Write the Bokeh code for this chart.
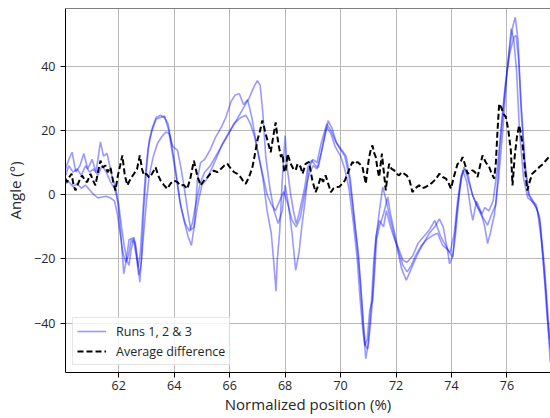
from bokeh.plotting import figure
from bokeh.models import Range1d, SingleIntervalTicker, Span, CustomJSTickFormatter
from bokeh.embed import file_html
from bokeh.resources import INLINE

# ---- data ----
run1_x = [60.08, 60.2, 60.32, 60.45, 60.6, 60.74, 60.88, 61.04, 61.18, 61.34, 61.45, 61.58, 61.75, 61.9,
          62.0, 62.1, 62.18, 62.28, 62.37, 62.5, 62.6, 62.7, 62.76, 62.82, 62.9, 63.0, 63.1, 63.22, 63.35,
          63.5, 63.65, 63.78, 63.9, 64.05, 64.2, 64.35, 64.5, 64.62, 64.72, 64.84, 64.95, 65.1, 65.3, 65.5,
          65.7, 65.86, 66.05, 66.2, 66.35, 66.5, 66.65, 66.8, 67.0, 67.2, 67.35, 67.5, 67.6, 67.67, 67.72,
          67.8, 67.9, 68.0, 68.08, 68.2, 68.3, 68.4, 68.5, 68.6, 68.7, 68.82, 68.95, 69.1, 69.2, 69.35,
          69.55, 69.7, 69.85, 70.05, 70.2, 70.35, 70.5, 70.65, 70.78, 70.85, 70.91, 71.0, 71.1, 71.2, 71.3,
          71.4, 71.52, 71.62, 71.8, 72.0, 72.2, 72.37, 72.5, 72.7, 72.85, 73.0, 73.2, 73.4, 73.56, 73.7,
          73.85, 73.93, 74.05, 74.2, 74.35, 74.45, 74.6, 74.75, 74.9, 75.05, 75.2, 75.3, 75.45, 75.6, 75.75,
          75.9, 76.05, 76.2, 76.3, 76.4, 76.5, 76.65, 76.8, 76.95, 77.1, 77.25, 77.4, 77.56]
run1_y = [8, 11, 13.2, 7, 9, 12.8, 8, 11, 7, 16.4, 12, 12.8, 6, 2,
          -5, -15, -24.6, -20, -14, -13.5, -15, -22, -27.2, -20, -5, 8, 17, 21, 24,
          24.7, 24, 22, 16, 8, -2, -8, -13, -15.8, -10, 5, 10, 11, 14, 18,
          21, 24, 29, 31, 31.4, 28, 29.5, 24, 14, 5, -5, -12, -22, -30, -20,
          -12, 5, 18.4, 8, 0, -5, -9, -6, -2, 2, 8.6, 10.7, 9, 8.5, 15,
          23, 20.5, 16, 13.8, 12, 5, -8, -19, -35, -45, -51, -46, -35, -20, -12,
          -5, 2.4, -1, -8, -15, -23, -26.6, -24, -20, -17.3, -15, -12, -10, -7.5, -10,
          -17, -21.5, -19, -5, 5, 8.6, 6, 0, -3, -6, -8, -9.5, -6, -3, 15,
          30, 42, 52, 55.2, 48, 30, 10, 0, -2, -5, -15, -30, -52]

run2_x = [60.08, 60.2, 60.35, 60.5, 60.65, 60.8, 60.95, 61.1, 61.25, 61.4, 61.55, 61.7, 61.85, 62.0,
          62.1, 62.2, 62.3, 62.37, 62.45, 62.55, 62.62, 62.7, 62.78, 62.85, 62.95, 63.05, 63.2, 63.35,
          63.5, 63.65, 63.8, 63.95, 64.1, 64.25, 64.4, 64.55, 64.65, 64.8, 64.95, 65.1, 65.3, 65.5, 65.7,
          65.9, 66.1, 66.3, 66.5, 66.7, 66.9, 67.0, 67.1, 67.2, 67.3, 67.45, 67.6, 67.75, 67.9, 68.0, 68.1,
          68.25, 68.38, 68.5, 68.6, 68.72, 68.85, 69.0, 69.15, 69.3, 69.5, 69.65, 69.8, 70.0, 70.15, 70.3,
          70.45, 70.6, 70.72, 70.82, 70.9, 70.98, 71.08, 71.2, 71.3, 71.4, 71.55, 71.7, 71.8, 71.95, 72.1,
          72.25, 72.4, 72.55, 72.7, 72.9, 73.1, 73.3, 73.5, 73.68, 73.85, 74.04, 74.15, 74.3, 74.41, 74.55,
          74.7, 74.77, 74.9, 75.05, 75.2, 75.3, 75.4, 75.55, 75.7, 75.85, 76.0, 76.15, 76.25, 76.35, 76.45,
          76.6, 76.75, 76.9, 77.05, 77.18, 77.3, 77.45, 77.56]
run2_y = [6, 9, 7, 8, 6, 9, 7, 8, 6, 9, 7, 4, 2, -3,
          -10, -16, -20.5, -22, -17, -13.2, -17, -22.5, -18, -8, 5, 14, 20, 23.5,
          24, 24.5, 20, 12, 4, -4, -9, -11.4, -9, -2, 4, 7, 9, 12, 15,
          18, 21, 24, 27, 30, 34, 35.5, 34, 25, 12, 2, -5, -9, -5, 3, -2,
          -12, -23.5, -18, -10, -2, 8, 11, 10, 16, 22, 20, 17, 14, 12, 6,
          -4, -16, -28, -40, -47, -48, -40, -28, -14, -10, -6, -0.7, -6, -12, -18,
          -22, -24, -22, -19, -16, -14, -12.8, -12, -15.8, -17, -19.4, -12, 2, 7.6, 4,
          -5, -8, -2, -5, -10, -15.2, -12, -6, 5, 20, 38, 51.6, 48, 38, 20,
          5, -1, -2, -4, -7, -20, -38, -48]

run3_x = [60.08, 60.2, 60.35, 60.5, 60.65, 60.8, 60.95, 61.1, 61.25, 61.4, 61.55, 61.7, 61.85, 61.95,
          62.05, 62.15, 62.25, 62.35, 62.45, 62.55, 62.65, 62.72, 62.8, 62.9, 63.0, 63.1, 63.25, 63.4,
          63.55, 63.7, 63.82, 63.95, 64.12, 64.25, 64.4, 64.5, 64.6, 64.72, 64.85, 65.0, 65.15, 65.35,
          65.55, 65.75, 65.95, 66.15, 66.4, 66.59, 66.75, 66.9, 67.05, 67.2, 67.35, 67.5, 67.65, 67.8,
          67.95, 68.1, 68.25, 68.4, 68.55, 68.7, 68.85, 69.0, 69.15, 69.3, 69.5, 69.65, 69.8, 70.0, 70.15,
          70.3, 70.45, 70.6, 70.7, 70.8, 70.88, 70.96, 71.05, 71.15, 71.27, 71.4, 71.55, 71.65, 71.8,
          71.95, 72.1, 72.25, 72.4, 72.6, 72.8, 73.0, 73.2, 73.4, 73.6, 73.8, 73.95, 74.1, 74.22, 74.35,
          74.5, 74.65, 74.8, 74.95, 75.1, 75.2, 75.35, 75.5, 75.65, 75.8, 75.95, 76.1, 76.25, 76.33, 76.42,
          76.52, 76.65, 76.78, 76.9, 77.05, 77.2, 77.35, 77.5, 77.56]
run3_y = [3.5, 4, 2.5, 3.5, 2, 3, 1.5, 0, -1, -0.7, -0.5, -1, -2, -6,
          -12, -18, -21, -19, -14, -15, -20, -25, -22, -12, -2, 6, 12, 16,
          18, 19.5, 19, 15, 13.8, 8, 0, -6, -11, -10, -3, 3, 4.5, 8,
          12, 16, 19, 22, 24, 24.7, 22, 18, 12, 6, 0, -3, -5, -2,
          1, -3, -8, -10, -7, 0, 6, 9, 8, 13, 21, 19, 15, 12, 8,
          2, -8, -20, -32, -42, -47, -45, -36, -32.9, -13.2, -8, -10, -5, -10,
          -14, -17, -20.4, -21, -19, -15, -13, -11, -8, -12.8, -16, -18, -12, -2, 6,
          8, 3, -1, -4, -6, -4, -5, -2, 8, 22, 35, 44, 49, 49.5, 42,
          25, 8, 0, -2, -3, -9, -22, -40, -45]

avg_x = [60.08, 60.14, 60.22, 60.3, 60.37, 60.44, 60.56, 60.68, 60.78, 60.86, 60.98, 61.07, 61.16, 61.25,
         61.34, 61.43, 61.52, 61.6, 61.7, 61.8, 61.88, 61.97, 62.05, 62.13, 62.22, 62.31, 62.43, 62.55,
         62.66, 62.76, 62.84, 62.91, 63.0, 63.09, 63.2, 63.33, 63.42, 63.51, 63.63, 63.75, 63.87, 63.99,
         64.1, 64.23, 64.35, 64.47, 64.58, 64.71, 64.83, 64.95, 65.08, 65.2, 65.3, 65.43, 65.55, 65.68,
         65.8, 65.92, 66.05, 66.16, 66.28, 66.4, 66.5, 66.58, 66.7, 66.82, 66.92, 67.0, 67.1, 67.18,
         67.27, 67.36, 67.48, 67.57, 67.66, 67.72, 67.78, 67.85, 67.91, 67.97, 68.02, 68.09, 68.2, 68.3,
         68.38, 68.45, 68.56, 68.63, 68.74, 68.86, 68.98, 69.1, 69.2, 69.28, 69.37, 69.46, 69.55, 69.65,
         69.75, 69.83, 69.95, 70.07, 70.16, 70.25, 70.34, 70.43, 70.52, 70.61, 70.7, 70.79, 70.85, 70.91,
         70.97, 71.03, 71.09, 71.15, 71.21, 71.27, 71.33, 71.39, 71.44, 71.49, 71.56, 71.63, 71.69, 71.75,
         71.84, 71.93, 72.02, 72.11, 72.2, 72.29, 72.38, 72.47, 72.53, 72.59, 72.7, 72.83, 72.95, 73.07,
         73.2, 73.32, 73.45, 73.56, 73.68, 73.8, 73.9, 73.98, 74.1, 74.22, 74.32, 74.4, 74.5, 74.58,
         74.67, 74.76, 74.85, 74.94, 75.03, 75.12, 75.24, 75.36, 75.45, 75.54, 75.6, 75.66, 75.72, 75.8,
         75.88, 75.96, 76.05, 76.14, 76.2, 76.28, 76.36, 76.44, 76.5, 76.56, 76.64, 76.73, 76.82, 76.91,
         77.04, 77.17, 77.29, 77.41, 77.56]
avg_y = [5, 3.9, 5.5, 6.5, 3, 1.3, 4, 6, 4.5, 3.9, 6.5, 4.5, 2.9, 7,
         10.6, 8.5, 9.1, 7, 8.5, 4, 1.3, 6, 9, 12.2, 6, 2.9, 5, 6.5,
         8, 12.2, 8, 6, 6.5, 5.4, 6.5, 8.5, 6, 4.4, 3, 1.8, 3.5, 4.4,
         4, 2.9, 3, 1.8, 5, 10.6, 6, 2.9, 4.5, 5.4, 6.5, 7.5, 7, 8,
         9, 9.6, 8, 7, 6.5, 5.4, 4, 3.4, 5.5, 8.5, 13, 16.9, 20, 23.1,
         20, 16.9, 13.2, 18, 22.5, 18, 14.8, 11.7, 12.7, 7, 7.6, 12.7, 9.6, 8,
         7.6, 9.6, 8.6, 6.5, 9.6, 10.2, 4.5, 0.8, 3, 5.5, 4, 6, 3.5, 0.8,
         2, 2.4, 2.5, 3.4, 4.5, 6.5, 8.5, 10.2, 9.5, 10.2, 9.5, 8.6, 6, 3.4,
         8, 11.7, 14, 15.3, 13, 11.7, 8, 5.5, 9, 12.8, 7, 1.3, 6, 9.6,
         8, 7.6, 6.5, 6, 7, 6.5, 6, 5, 3, 0.8, 2, 2.9, 2, 2.4,
         3, 3.9, 5, 6.5, 5.5, 5, 3.5, 1.9, 6, 9.6, 10, 11.7, 9, 6.5,
         7, 7.6, 7, 5.5, 9, 12.2, 10, 8.6, 6.5, 5, 10, 20, 28.3, 27,
         25, 24.2, 20, 13.8, 2.9, 12, 18, 21.6, 19, 15.9, 9, 1.3, 4, 6.5,
         7.5, 8.6, 9.5, 10.7, 12.2]

x_range = (60.08, 77.57)
y_range = (-55.3, 57.9)

FONT = "Open Sans"

p = figure(width=550, height=418, output_backend="svg", toolbar_location=None,
           x_range=Range1d(*x_range), y_range=Range1d(*y_range),
           min_border_left=65, min_border_right=0, min_border_top=8, min_border_bottom=46,
           background_fill_color="white", border_fill_color="white")
p.outline_line_color = None

for xs, ys, lab in [(run1_x, run1_y, "Runs 1, 2 & 3"), (run2_x, run2_y, None), (run3_x, run3_y, None)]:
    kw = dict(line_color="blue", line_alpha=0.4, line_width=1.6)
    if lab:
        kw["legend_label"] = lab
    p.line(xs, ys, **kw)

p.line(avg_x, avg_y, line_color="black", line_width=2, line_dash="6 3",
       legend_label="Average difference")

# top border
p.add_layout(Span(location=y_range[1], dimension="width", line_color="black", line_width=1))

p.xaxis.ticker = SingleIntervalTicker(interval=2)
p.yaxis.ticker = SingleIntervalTicker(interval=20)
p.yaxis.formatter = CustomJSTickFormatter(code="return tick < 0 ? '\u2212' + Math.abs(tick) : String(tick);")
p.xaxis.axis_label = "Normalized position (%)"
p.yaxis.axis_label = "Angle (°)"
for ax in (p.xaxis, p.yaxis):
    ax.axis_line_color = "black"
    ax.axis_line_width = 1
    ax.major_tick_in = 0
    ax.major_tick_out = 5
    ax.minor_tick_line_color = None
    ax.major_tick_line_color = "black"
    ax.major_label_text_font = FONT
    ax.major_label_text_font_size = "12.5px"
    ax.major_label_text_color = "#262626"
    ax.axis_label_text_font = FONT
    ax.axis_label_text_font_size = "15px"
    ax.axis_label_text_font_style = "normal"
    ax.axis_label_text_color = "#262626"
p.xaxis.major_label_standoff = 3
p.xaxis.axis_label_standoff = 1
p.yaxis.major_label_standoff = 5
p.yaxis.axis_label_standoff = 6

p.grid.grid_line_color = "#b8b8b8"
p.grid.grid_line_width = 1

lg = p.legend[0]
lg.location = "bottom_left"
lg.margin = 7
lg.padding = 4
lg.spacing = 2
lg.label_height = 18
lg.glyph_height = 18
lg.glyph_width = 29
lg.label_text_font = FONT
lg.label_text_font_size = "12.5px"
lg.label_text_color = "#262626"
lg.label_standoff = 10
lg.border_line_color = "#cccccc"
lg.border_line_width = 1
lg.background_fill_alpha = 0.8

open("out.html", "w").write(file_html(p, INLINE))
